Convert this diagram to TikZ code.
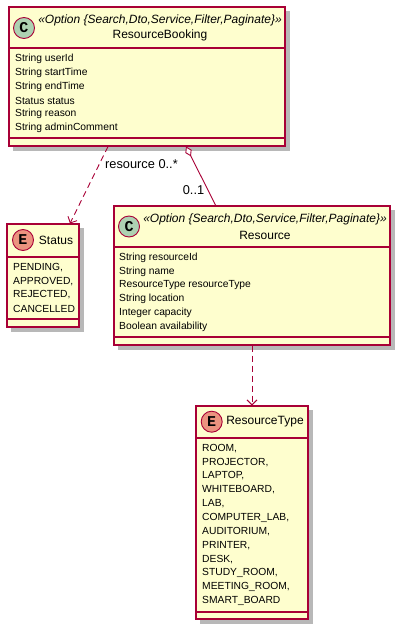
\documentclass[tikz,border=0pt]{standalone}
\usepackage{fontspec}
\setmainfont{Liberation Sans}
\newfontfamily\spotfont{Liberation Mono}
\usetikzlibrary{arrows.meta}

\definecolor{boxfill}{HTML}{FEFECE}
\definecolor{boxline}{HTML}{A80036}
\definecolor{classspot}{HTML}{ADD1B2}
\definecolor{enumspot}{HTML}{EB937F}

\tikzset{
  classbox/.style={draw=boxline, fill=boxfill, line width=1.3pt, inner sep=0pt, outer sep=0pt, anchor=north west},
  boxshadow/.style={fill=black!28, draw=none},
  sepline/.style={draw=boxline, line width=1.1pt},
  spot/.style={circle, draw=boxline, line width=0.9pt, minimum size=21pt, inner sep=0pt,
    font=\spotfont\bfseries\fontsize{15}{15}\selectfont},
  attr/.style={anchor=west, inner sep=0pt, font=\fontsize{10.3}{10.3}\selectfont},
  cname/.style={inner sep=0pt, font=\fontsize{12}{12}\selectfont},
  stereo/.style={inner sep=0pt, font=\itshape\fontsize{12}{12}\selectfont},
  linklabel/.style={inner sep=0pt, font=\fontsize{12.8}{12.8}\selectfont},
  deplink/.style={draw=boxline, line width=0.9pt, dash pattern=on 6pt off 4pt,
    -{Straight Barb[length=5pt,width=10pt]}},
  agglink/.style={draw=boxline, line width=0.9pt,
    -{Diamond[fill=white, length=11pt, width=7pt]}},
}

\begin{document}
\begin{tikzpicture}[x=1pt,y=-1pt]
  \useasboundingbox (0,0) rectangle (403,632);

  % Drawing shadows
  \fill[boxshadow] (13,11) rectangle (289.5,150.5);
  \fill[boxshadow] (11,228) rectangle (83.5,331.5);
  \fill[boxshadow] (118,210) rectangle (394.5,349.5);
  \fill[boxshadow] (200,410) rectangle (312.5,623.5);

  % Drawing class ResourceBooking
  \node[classbox, minimum width=276pt, minimum height=139pt] (booking) at (9,7) {};
  \draw[sepline] (9,48) -- (285,48);
  \draw[sepline] (9,138) -- (285,138);
  \node[spot, fill=classspot] (booking-spot) at (24,28) {C};
  \node[stereo] (booking-stereo) at (160,20) {«Option \{Search,Dto,Service,Filter,Paginate\}»};
  \node[cname] (booking-name) at (160,35.5) {ResourceBooking};
  \foreach \txt [count=\i from 0] in {String userId, String startTime, String endTime,
      Status status, String reason, String adminComment}
    \node[attr] (booking-a\i) at (15,{59.3+13.75*\i}) {\txt};

  % Drawing enum Status
  \node[classbox, minimum width=72pt, minimum height=103pt] (status) at (7,224) {};
  \draw[sepline] (7,257) -- (79,257);
  \draw[sepline] (7,319) -- (79,319);
  \node[spot, fill=enumspot] (status-spot) at (23,240) {E};
  \node[cname] (status-name) at (56,240.5) {Status};
  \foreach \txt [count=\i from 0] in {PENDING{,}, APPROVED{,}, REJECTED{,}, CANCELLED}
    \node[attr] (status-a\i) at (13,{267.5+13.75*\i}) {\txt};

  % Drawing class Resource
  \node[classbox, minimum width=276pt, minimum height=139pt] (resource) at (114,206) {};
  \draw[sepline] (114,247) -- (390,247);
  \draw[sepline] (114,337) -- (390,337);
  \node[spot, fill=classspot] (resource-spot) at (129,226.5) {C};
  \node[stereo] (resource-stereo) at (265,219) {«Option \{Search,Dto,Service,Filter,Paginate\}»};
  \node[cname] (resource-name) at (265,235) {Resource};
  \foreach \txt [count=\i from 0] in {String resourceId, String name,
      ResourceType resourceType, String location, Integer capacity, Boolean availability}
    \node[attr] (resource-a\i) at (119,{258+13.75*\i}) {\txt};

  % Drawing enum ResourceType
  \node[classbox, minimum width=112pt, minimum height=213pt] (restype) at (196,406) {};
  \draw[sepline] (196,438) -- (308,438);
  \draw[sepline] (196,612) -- (308,612);
  \node[spot, fill=enumspot] (restype-spot) at (211.7,421.7) {E};
  \node[cname] (restype-name) at (265,422) {ResourceType};
  \foreach \txt [count=\i from 0] in {ROOM{,}, PROJECTOR{,}, LAPTOP{,}, WHITEBOARD{,}, LAB{,},
      COMPUTER\_LAB{,}, AUDITORIUM{,}, PRINTER{,}, DESK{,}, STUDY\_ROOM{,},
      MEETING\_ROOM{,}, SMART\_BOARD}
    \node[attr] (restype-a\i) at (202,{448.3+13.85*\i}) {\txt};

  % Link ends
  \coordinate (booking-dep) at (108,146.5);
  \coordinate (status-in) at (70,223.5);
  \coordinate (booking-agg) at (186,146.5);
  \coordinate (resource-in) at (216,206);
  \coordinate (resource-dep) at (252,345.5);
  \coordinate (restype-in) at (252,405.5);

  % Drawing link ResourceBooking Status
  \draw[deplink] (booking-dep) -- (status-in);
  \node[linklabel, anchor=west] (booking-lbl) at (105,164) {resource 0..*};

  % Drawing link ResourceBooking Resource
  \draw[agglink] (resource-in) -- (booking-agg);
  \node[linklabel] (resource-lbl) at (193.5,190) {0..1};

  % Drawing link Resource ResourceType
  \draw[deplink] (resource-dep) -- (restype-in);
\end{tikzpicture}
\end{document}
